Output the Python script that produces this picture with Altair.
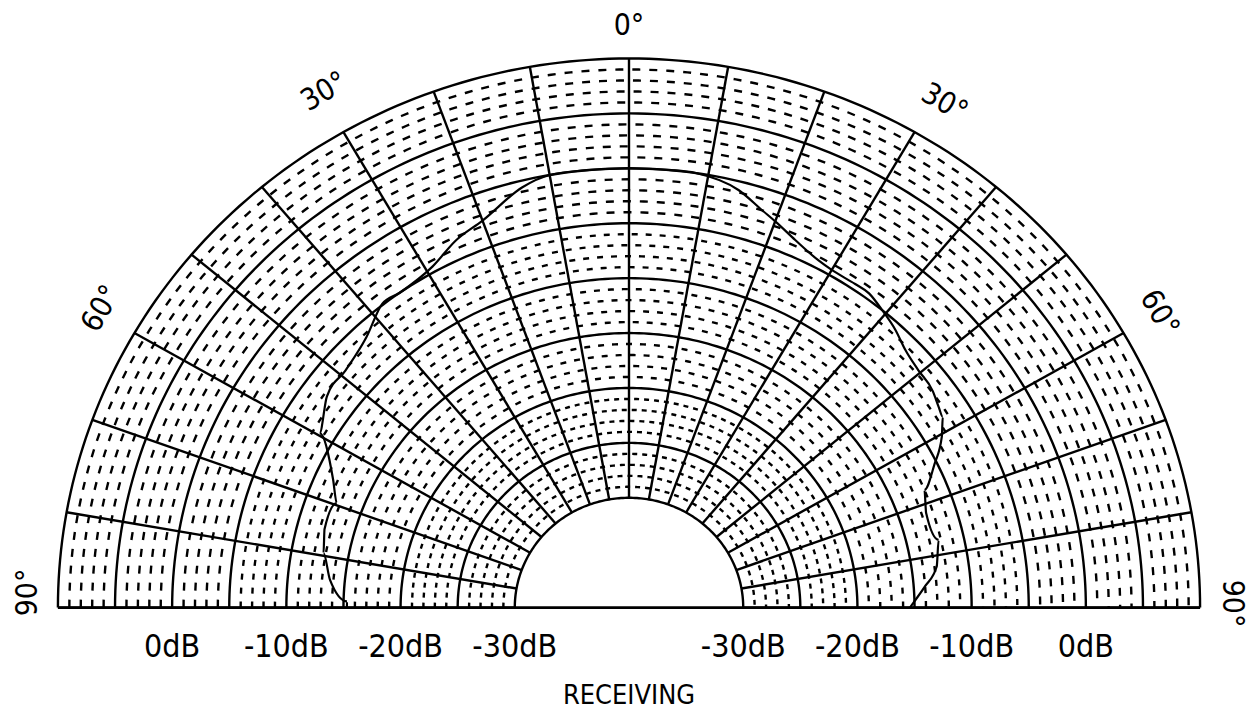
import altair as alt
import numpy as np
import pandas as pd

# ---- values ----
# polar response (angle in degrees, 0 = front; level in dB)
pattern_angle = [-90, -88.7, -84.5, -79.5, -75, -69.6, -65.8, -59.6, -54, -49, -43,
                 -38, -35, -29, -24.4, -20, -13.7, -10, -5, 0, 5, 8.4, 14.2, 17.9,
                 20.1, 23.5, 27.7, 30, 33.9, 36.3, 39.3, 42.7, 45.9, 49.5, 53.5, 56,
                 57.7, 60.4, 63.9, 67.5, 71.7, 77.2, 82.1, 85.7, 89, 90]
pattern_db = [-15.3, -15.3, -13.7, -12.8, -12.4, -12.7, -11.6, -8.6, -7.3, -7.1, -6.3,
              -4.9, -5.0, -4.5, -3.3, -2.5, -0.6, 0, 0, 0, 0, 0, -0.8, -2.0,
              -2.6, -3.5, -4.3, -4.5, -4.5, -4.5, -5.0, -5.6, -6.3, -6.7, -6.9, -7.3,
              -7.5, -8.5, -10.2, -12.0, -12.6, -12.2, -12.8, -14.0, -15.1, -15.4]

solid_ring_db = [-30, -25, -20, -15, -10, -5, 0, 5, 10]
dashed_ring_db = [d for d in range(-29, 10) if d % 5 != 0]
spoke_angle = list(range(-90, 91, 10))

db_label_text = ["0dB", "-10dB", "-20dB", "-30dB"]
db_label_value = [0, -10, -20, -30]

angle_label_text = ["0°", "30°", "30°", "60°", "60°", "90°", "90°"]
angle_label_pos = [0, -29.6, 31, -59.5, 60, -88.5, 89.6]
angle_label_rad = [53.0, 54.0, 53.6, 53.6, 53.6, 52.6, 52.8]
angle_label_rot = [0, 330, 30, 300, 60, 270, 90]

title_text = "RECEIVING"

# radial scale: -30 dB sits on the inner hole (radius 10 units), +10 dB on the rim (50)
DB_MIN = -30
HOLE = 10
OUTER = 50

FONT = "DejaVu Sans Condensed, Liberation Sans Narrow, Liberation Sans, sans-serif"

# ---- tables built from the arrays ----
ring_steps = np.arange(-90, 90.5, 1.0)
solid_rings = pd.DataFrame([(d, a) for d in solid_ring_db for a in ring_steps],
                           columns=["db", "a"])
dashed_rings = pd.DataFrame([(d, a) for d in dashed_ring_db for a in ring_steps],
                            columns=["db", "a"])
spokes = pd.DataFrame([(s, a, d) for s, a in enumerate(spoke_angle)
                       for d in (DB_MIN, DB_MIN + OUTER - HOLE)],
                      columns=["s", "a", "db"])
baseline = pd.DataFrame({"a": [-90, 90], "db": [DB_MIN + OUTER - HOLE] * 2})
pattern = pd.DataFrame({"a": pattern_angle, "db": pattern_db})
db_labels = pd.DataFrame({
    "text": db_label_text * 2,
    "db": db_label_value * 2,
    "side": [-1] * 4 + [1] * 4,
})
angle_labels = pd.DataFrame({"text": angle_label_text, "a": angle_label_pos,
                             "r": angle_label_rad, "rot": angle_label_rot})

xs = alt.Scale(domain=[-OUTER, OUTER], nice=False, zero=False)
ys = alt.Scale(domain=[0, OUTER], nice=False, zero=False)


def polar(ch, rho_expr=f"datum.db - ({DB_MIN}) + {HOLE}"):
    return ch.transform_calculate(
        rho=rho_expr
    ).transform_calculate(
        px="datum.rho * sin(datum.a * PI / 180)",
        py="datum.rho * cos(datum.a * PI / 180)",
    )


X = alt.X("px:Q", scale=xs, axis=None)
Y = alt.Y("py:Q", scale=ys, axis=None)

dashed = polar(alt.Chart(dashed_rings)).transform_calculate(
    grp="datum.db < -20 ? 'a' : (datum.db < -5 ? 'b' : 'c')"
).mark_line(color="black", strokeWidth=2.4, strokeCap="butt").encode(
    x=X, y=Y, detail="db:N", order="a:Q",
    strokeDash=alt.StrokeDash("grp:N", scale=alt.Scale(
        domain=["a", "b", "c"], range=[[5, 5], [6, 8], [8, 9]]), legend=None),
)

solid = polar(alt.Chart(solid_rings)).mark_line(
    color="black", strokeWidth=2.4).encode(x=X, y=Y, detail="db:N", order="a:Q")

spk = polar(alt.Chart(spokes)).mark_line(
    color="black", strokeWidth=2.4).encode(x=X, y=Y, detail="s:N", order="db:Q")

base = polar(alt.Chart(baseline)).mark_line(
    color="black", strokeWidth=2.8).encode(x=X, y=Y, order="a:Q")

curve = polar(alt.Chart(pattern)).mark_line(
    color="black", strokeWidth=2.2, interpolate="monotone").encode(
    x=X, y=Y, order="a:Q")

dbl = alt.Chart(db_labels).transform_calculate(
    px=f"datum.side * (datum.db - ({DB_MIN}) + {HOLE})", py="0"
).mark_text(font=FONT, fontSize=32, dy=49, baseline="alphabetic",
            align="center", color="black").encode(x=X, y=Y, text="text:N")

angl = polar(alt.Chart(angle_labels), rho_expr="datum.r").mark_text(
    font=FONT, fontSize=30, baseline="middle", align="center", color="black"
).encode(x=X, y=Y, text="text:N", angle=alt.Angle("rot:Q", scale=None))

ttl = alt.Chart(pd.DataFrame({"text": [title_text]})).transform_calculate(
    px="0", py="0"
).mark_text(font=FONT, fontSize=27, dy=97, baseline="alphabetic",
            align="center", color="black").encode(x=X, y=Y, text="text:N")

chart = alt.layer(dashed, solid, spk, base, curve, dbl, angl, ttl).properties(
    width=1144, height=550,
    padding={"left": 50, "top": 50, "right": 51, "bottom": 105},
    autosize="none",
    background="white",
).configure_view(stroke=None)

chart.save("out.html", embed_options={"renderer": "svg", "actions": False})
